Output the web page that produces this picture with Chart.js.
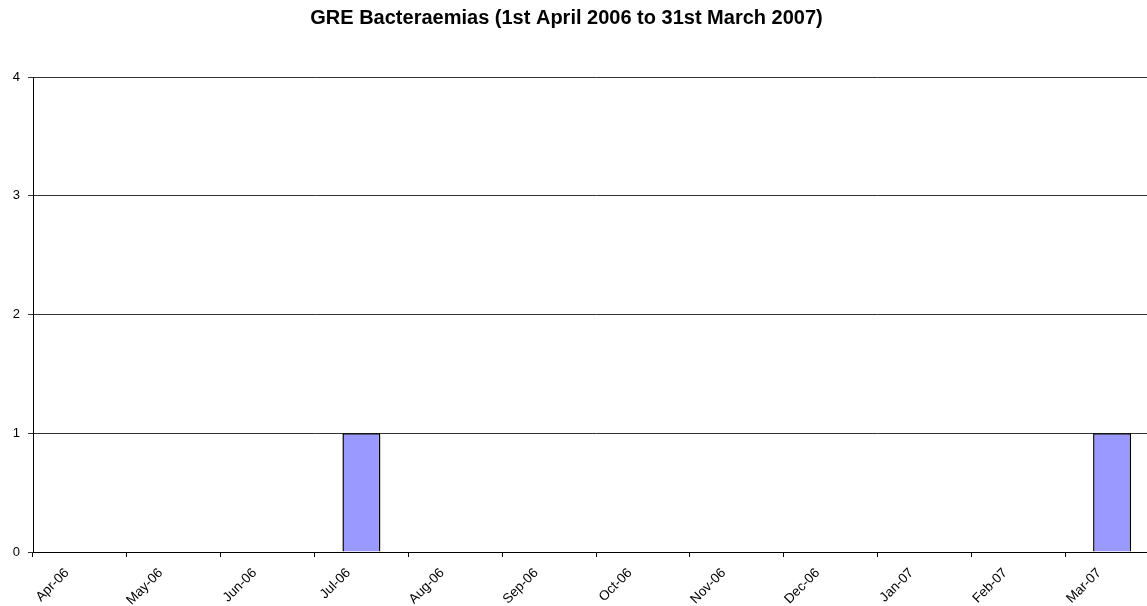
<!DOCTYPE html>
<html>
<head>
<meta charset="utf-8">
<script src="https://cdn.jsdelivr.net/npm/chart.js@4/dist/chart.umd.min.js"></script>
<style>
  html, body { margin: 0; padding: 0; background: #fff; overflow: hidden; }
  #wrap { width: 1159px; height: 606px; }
</style>
</head>
<body>
<div id="wrap"><canvas id="gre" width="1159" height="606"></canvas></div>
<script>
var months = ["Apr-06", "May-06", "Jun-06", "Jul-06", "Aug-06", "Sep-06",
              "Oct-06", "Nov-06", "Dec-06", "Jan-07", "Feb-07", "Mar-07"];
var cases = [0, 0, 0, 1, 0, 0, 0, 0, 0, 0, 0, 1];
var yTicks = [0, 1, 2, 3, 4];

var ctx = document.getElementById("gre").getContext('2d');

// title is centred on the visible picture, not on the (wider) canvas
var titleShift = {
    id: 'titleShift',
    afterLayout: function (chart) {
        chart.titleBlock.right = 1133;
    }
};

var chartGre = new Chart(ctx, {
    type: 'bar',
    data: {
        labels: months,
        datasets: [{
            data: cases,
            backgroundColor: '#9999FF',
            borderColor: '#000000',
            borderWidth: 1.5,
            barPercentage: 0.405,
            categoryPercentage: 1
        }]
    },
    plugins: [titleShift],
    options: {
        responsive: false,
        animation: false,
        layout: { padding: 0 },
        plugins: {
            legend: { display: false },
            tooltip: { enabled: false },
            title: {
                display: true,
                text: 'GRE Bacteraemias (1st April 2006 to 31st March 2007)',
                color: '#000',
                font: { family: 'Arial, "Liberation Sans"', size: 20, weight: 'bold' },
                padding: { top: 6, bottom: 47 }
            }
        },
        scales: {
            x: {
                offset: true,
                grid: {
                    offset: true,
                    drawOnChartArea: false,
                    drawTicks: true,
                    tickLength: 5,
                    color: '#000'
                },
                border: { color: '#000', width: 1 },
                ticks: {
                    minRotation: 45,
                    maxRotation: 45,
                    autoSkip: false,
                    labelOffset: -13,
                    padding: 8,
                    color: '#000',
                    font: { family: 'Arial, "Liberation Sans"', size: 13.5 }
                },
                afterFit: function (scale) {
                    scale.height = 54;
                    scale.paddingLeft = 0;
                    scale.paddingRight = 0;
                }
            },
            y: {
                min: 0,
                max: 4,
                afterBuildTicks: function (scale) {
                    scale.ticks = yTicks.map(function (v) { return { value: v }; });
                },
                grid: {
                    color: '#333',
                    drawTicks: true,
                    tickLength: 5
                },
                border: { color: '#000', width: 1 },
                ticks: {
                    padding: 8,
                    color: '#000',
                    font: { family: 'Arial, "Liberation Sans"', size: 13 }
                },
                afterFit: function (scale) {
                    scale.width = 33;
                    scale.paddingTop = 0;
                    scale.paddingBottom = 0;
                }
            }
        }
    }
});
</script>
</body>
</html>
